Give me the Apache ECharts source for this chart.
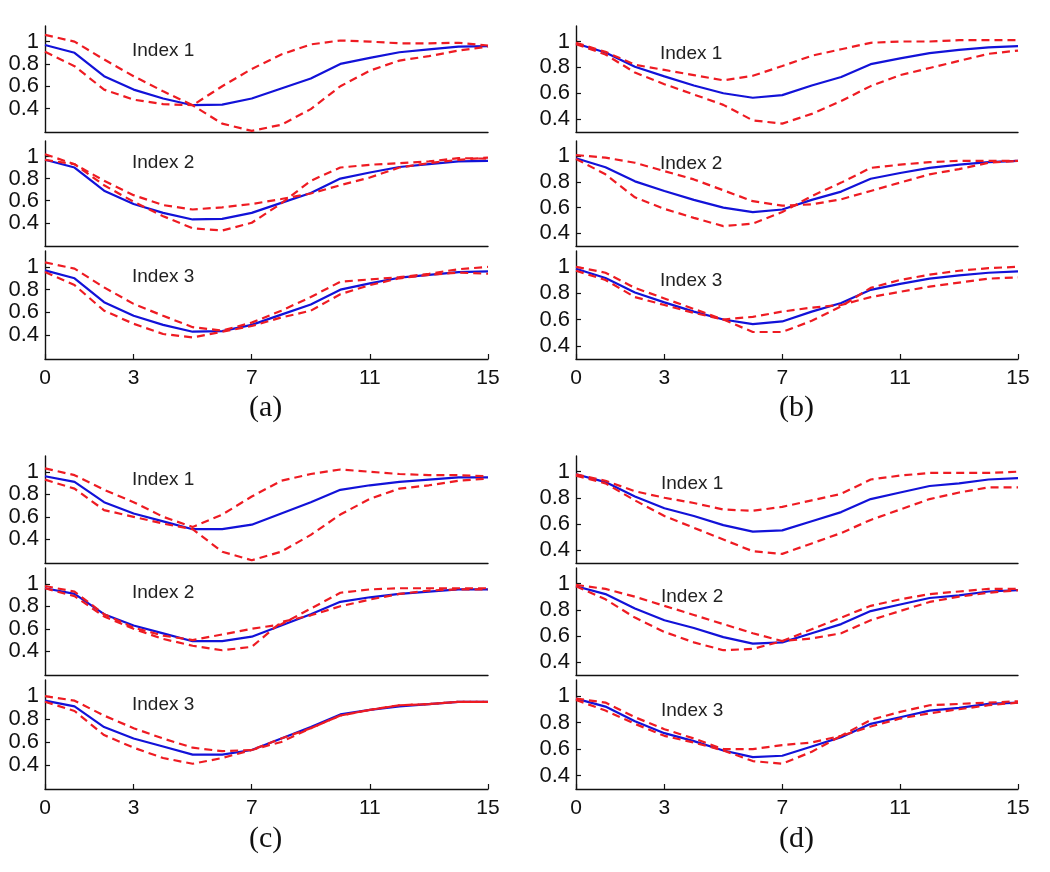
<!DOCTYPE html>
<html><head><meta charset="utf-8">
<script src="https://cdn.jsdelivr.net/npm/echarts@6/dist/echarts.min.js"></script>
<style>html,body{margin:0;padding:0;background:#fff}#c{width:1050px;height:872px}</style>
</head><body><div id="c"></div>
<script>
// ---------- data ----------
const xs = [0,1,2,3,4,5,6,7,8,9,10,11,12,13,14,15];
const xTicks = [0,3,7,11,15];
const yTicks = [0.4,0.6,0.8,1];
const subLabels = ['Index 1','Index 2','Index 3'];
const panelLabels = ['(a)','(b)','(c)','(d)'];

// panel (a)
const blueA  = [0.97,0.90,0.69,0.57,0.49,0.43,0.435,0.49,0.58,0.67,0.80,0.855,0.905,0.93,0.955,0.96];
const a1Up   = [1.06,1.00,0.84,0.69,0.555,0.43,0.60,0.755,0.885,0.975,1.01,1.00,0.985,0.985,0.99,0.965];
const a1Lo   = [0.91,0.78,0.57,0.48,0.44,0.43,0.265,0.20,0.255,0.395,0.60,0.74,0.83,0.87,0.92,0.955];
const a2Up   = [1.02,0.93,0.78,0.65,0.56,0.52,0.54,0.57,0.615,0.665,0.74,0.81,0.90,0.94,0.97,0.99];
const a2Lo   = [0.97,0.93,0.74,0.59,0.46,0.35,0.33,0.40,0.575,0.78,0.90,0.925,0.94,0.955,0.985,0.98];
const a3Up   = [1.04,0.985,0.82,0.675,0.57,0.47,0.44,0.51,0.615,0.735,0.87,0.89,0.91,0.94,0.98,1.00];
const a3Lo   = [0.955,0.84,0.615,0.50,0.41,0.38,0.43,0.48,0.555,0.615,0.76,0.84,0.90,0.93,0.95,0.94];

// panel (b)
const blueB  = [0.985,0.915,0.805,0.73,0.66,0.60,0.565,0.585,0.66,0.725,0.825,0.87,0.91,0.935,0.955,0.965];
const b1Up   = [0.99,0.92,0.82,0.78,0.74,0.70,0.735,0.81,0.89,0.94,0.99,1.00,1.00,1.01,1.01,1.01];
const b1Lo   = [0.98,0.90,0.76,0.67,0.59,0.51,0.39,0.365,0.44,0.54,0.655,0.74,0.795,0.85,0.905,0.93];
const b2Up   = [1.01,0.99,0.95,0.885,0.82,0.735,0.65,0.615,0.625,0.665,0.73,0.795,0.86,0.90,0.95,0.965];
const b2Lo   = [0.98,0.86,0.68,0.59,0.52,0.455,0.475,0.565,0.69,0.795,0.91,0.935,0.955,0.965,0.965,0.965];
const b3Up   = [1.00,0.955,0.84,0.76,0.68,0.60,0.62,0.66,0.69,0.71,0.77,0.81,0.85,0.88,0.91,0.92];
const b3Lo   = [0.97,0.90,0.77,0.71,0.65,0.60,0.505,0.505,0.59,0.70,0.84,0.90,0.94,0.97,0.99,1.00];

// panel (c)
const blueC  = [0.96,0.91,0.73,0.63,0.56,0.49,0.49,0.53,0.63,0.73,0.84,0.88,0.91,0.93,0.95,0.95];
const c1Up   = [1.03,0.97,0.84,0.73,0.60,0.51,0.62,0.78,0.92,0.98,1.02,1.00,0.98,0.97,0.97,0.96];
const c1Lo   = [0.93,0.85,0.66,0.60,0.54,0.49,0.29,0.215,0.29,0.44,0.62,0.76,0.85,0.88,0.92,0.94];
const c2Up   = [0.98,0.93,0.73,0.61,0.54,0.50,0.55,0.60,0.64,0.78,0.92,0.95,0.96,0.96,0.96,0.96];
const c2Lo   = [0.96,0.89,0.71,0.60,0.51,0.45,0.41,0.44,0.66,0.72,0.80,0.86,0.91,0.94,0.95,0.95];
const c3Up   = [1.00,0.96,0.83,0.72,0.63,0.55,0.52,0.53,0.63,0.72,0.83,0.88,0.92,0.93,0.95,0.95];
const c3Lo   = [0.95,0.87,0.66,0.55,0.46,0.41,0.46,0.53,0.60,0.72,0.83,0.88,0.92,0.93,0.95,0.95];

// panel (d)
const blueD  = [0.98,0.92,0.81,0.72,0.66,0.59,0.54,0.55,0.62,0.69,0.79,0.84,0.89,0.91,0.94,0.95];
const d1Up   = [0.98,0.93,0.85,0.80,0.76,0.71,0.70,0.73,0.78,0.83,0.94,0.97,0.99,0.99,0.99,1.00];
const d1Lo   = [0.97,0.91,0.78,0.66,0.57,0.48,0.39,0.37,0.45,0.53,0.63,0.71,0.79,0.84,0.88,0.88];
const d2Up   = [0.99,0.96,0.90,0.83,0.76,0.69,0.62,0.56,0.58,0.62,0.72,0.79,0.86,0.90,0.93,0.95];
const d2Lo   = [0.98,0.88,0.74,0.63,0.55,0.49,0.50,0.56,0.65,0.74,0.83,0.88,0.92,0.94,0.96,0.96];
const d3Up   = [0.98,0.95,0.84,0.75,0.68,0.60,0.60,0.63,0.65,0.70,0.82,0.88,0.93,0.94,0.95,0.96];
const d3Lo   = [0.97,0.89,0.79,0.70,0.65,0.59,0.51,0.49,0.58,0.70,0.77,0.83,0.87,0.90,0.93,0.95];

// ---------- layout ----------
const panels = [
  {blue: blueA, subs: [[a1Up,a1Lo],[a2Up,a2Lo],[a3Up,a3Lo]], left: 45,  width: 443, rows: 0, yMin: 0.19, yMax: 1.14, lab: {x: 267, y: 410}},
  {blue: blueB, subs: [[b1Up,b1Lo],[b2Up,b2Lo],[b3Up,b3Lo]], left: 576, width: 442, rows: 0, yMin: 0.30, yMax: 1.12, lab: {x: 797, y: 410}},
  {blue: blueC, subs: [[c1Up,c1Lo],[c2Up,c2Lo],[c3Up,c3Lo]], left: 45,  width: 443, rows: 1, yMin: 0.19, yMax: 1.14, lab: {x: 267, y: 841}},
  {blue: blueD, subs: [[d1Up,d1Lo],[d2Up,d2Lo],[d3Up,d3Lo]], left: 576, width: 442, rows: 1, yMin: 0.30, yMax: 1.12, lab: {x: 797, y: 841}}
];
const rowSets = [
  [{top: 26, h: 106}, {top: 141, h: 105}, {top: 251, h: 108}],
  [{top: 456, h: 107}, {top: 568, h: 107}, {top: 680, h: 109}]
];
const indexTextPos = [
  [[132, 52],[132, 164],[132, 278]],
  [[660, 55],[660, 165],[660, 282]],
  [[132, 481],[132, 594],[132, 706]],
  [[661, 485],[661, 598],[661, 712]]
];

const BLUE = '#1212d8', RED = '#ee1b22';
const grid = [], xAxis = [], yAxis = [], series = [], graphic = [];
let gi = 0;
panels.forEach((p, pi) => {
  rowSets[p.rows].forEach((r, si) => {
    const last = si === 2;
    grid.push({left: p.left, top: r.top, width: p.width, height: r.h, outerBoundsMode: 'none'});
    xAxis.push({
      type: 'value', gridIndex: gi, min: 0, max: 15,
      axisLine: {show: true, onZero: false, lineStyle: {color: '#111', width: 1.4}},
      axisTick: {show: last, inside: true, length: 5, customValues: xTicks, lineStyle: {color: '#111', width: 1.2}},
      axisLabel: {show: last, customValues: xTicks, margin: 9, color: '#111', fontSize: 21, fontFamily: 'Liberation Sans, Arial, sans-serif'},
      splitLine: {show: false}
    });
    yAxis.push({
      type: 'value', gridIndex: gi, min: p.yMin, max: p.yMax,
      axisLine: {show: true, onZero: false, lineStyle: {color: '#111', width: 1.4}},
      axisTick: {show: true, inside: true, length: 5, customValues: yTicks, lineStyle: {color: '#111', width: 1.2}},
      axisLabel: {show: true, customValues: yTicks, margin: 6, color: '#111', fontSize: 22, fontFamily: 'Liberation Sans, Arial, sans-serif'},
      splitLine: {show: false}
    });
    series.push({
      type: 'line', xAxisIndex: gi, yAxisIndex: gi, showSymbol: false, silent: true, clip: false,
      data: xs.map((x, j) => [x, p.blue[j]]),
      lineStyle: {color: BLUE, width: 2.2}, z: 2
    });
    p.subs[si].forEach(arr => {
      series.push({
        type: 'line', xAxisIndex: gi, yAxisIndex: gi, showSymbol: false, silent: true, clip: false,
        data: xs.map((x, j) => [x, arr[j]]),
        lineStyle: {color: RED, width: 2.2, type: [8, 5]}, z: 3
      });
    });
    const tp = indexTextPos[pi][si];
    graphic.push({type: 'text', left: tp[0], top: tp[1] - 11, z: 10,
      style: {text: subLabels[si], fill: '#222', font: '19px "Liberation Sans", Arial, sans-serif'}});
    gi++;
  });
  graphic.push({type: 'text', left: p.lab.x - 18, top: p.lab.y - 17, z: 10,
    style: {text: panelLabels[pi], fill: '#111', font: '30px "Liberation Serif", "Times New Roman", serif'}});
});

const chart = echarts.init(document.getElementById('c'), null, {renderer: 'canvas'});
chart.setOption({animation: false, backgroundColor: '#fff', grid, xAxis, yAxis, series, graphic});
</script>
</body></html>
